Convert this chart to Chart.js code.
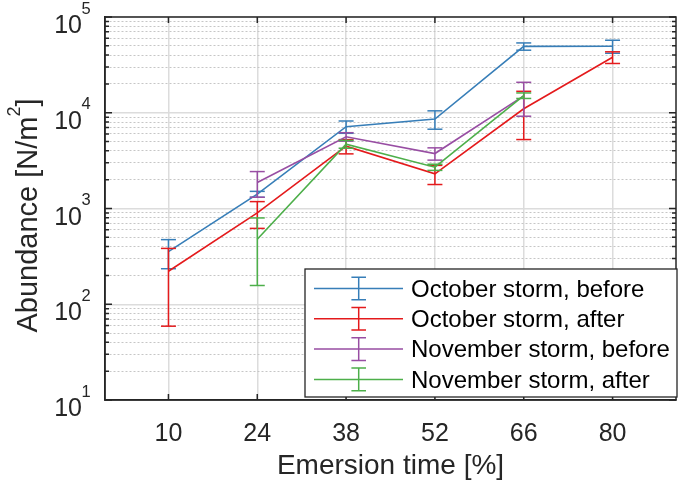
<!DOCTYPE html>
<html><head><meta charset="utf-8">
<script src="https://cdn.jsdelivr.net/npm/chart.js@4.4.1/dist/chart.umd.min.js"></script>
<style>html,body{margin:0;padding:0;background:#fff}#wrap{width:685px;height:486px}</style>
</head><body><div id="wrap"><canvas id="c" width="685" height="486"></canvas></div>
<script>
// ---- data ----
const emersionTimes = [10, 24, 38, 52, 66, 80];
const xTickValues = [10, 24, 38, 52, 66, 80];
const yDecades = [10, 100, 1000, 10000, 100000];
const yDecadeBase = '10';
const yDecadeExponents = ['1', '2', '3', '4', '5'];
const xTitle = 'Emersion time [%]';
const yTitleMain = 'Abundance [N/m';
const yTitleSup = '2';
const yTitleEnd = ']';
const seriesLabels = ['October storm, before', 'October storm, after', 'November storm, before', 'November storm, after'];
const octBefore    = [354, 1410, 7150, 8600, 49300, 49500];
const octBeforeErr = [119, 100, 1050, 1870, 4300, 7700];
const octAfter     = [221, 900, 4480, 2300, 11000, 38000];
const octAfterErr  = [162, 280, 760, 520, 5750, 5300];
const novBefore    = [null, 1870, 5620, 3750, 15000, null];
const novBeforeErr = [null, 560, 570, 550, 5800, null];
const novAfter     = [null, 477, 4700, 2700, 15100, null];
const novAfterErr  = [null, 320, 440, 200, 1000, null];
const seriesColors = ['#377eb8', '#e41a1c', '#984ea3', '#4daf4a'];

const seriesValues = [octBefore, octAfter, novBefore, novAfter];
const seriesErrors = [octBeforeErr, octAfterErr, novBeforeErr, novAfterErr];

const FONT = '"Liberation Sans", Arial, Helvetica, sans-serif';
const AXIS_COLOR = '#262626';
Chart.defaults.font.family = FONT;

function linePoints(vals) {
  const pts = [];
  emersionTimes.forEach((x, i) => { if (vals[i] != null) pts.push({x: x, y: vals[i]}); });
  return pts;
}
function errorBarPoints(vals, errs) {
  const pts = [];
  emersionTimes.forEach((x, i) => {
    if (vals[i] == null) return;
    pts.push({x: x, y: vals[i] - errs[i]}, {x: x, y: vals[i] + errs[i]}, {x: x, y: null});
  });
  return pts;
}
function isDecade(v) {
  const l = Math.log10(v);
  return Math.abs(l - Math.round(l)) < 1e-9;
}

const datasets = [];
seriesValues.forEach((vals, k) => {
  datasets.push({
    label: seriesLabels[k],
    data: linePoints(vals),
    borderColor: seriesColors[k],
    borderWidth: 1.6,
    pointRadius: 0,
    tension: 0,
    fill: false,
    order: (3 - k) * 2 + 1
  });
  datasets.push({
    label: seriesLabels[k] + ' error',
    data: errorBarPoints(vals, seriesErrors[k]),
    borderColor: seriesColors[k],
    borderWidth: 1.5,
    showLine: true,
    spanGaps: false,
    pointStyle: 'line',
    pointRadius: 7.5,
    pointBorderWidth: 1.5,
    pointBorderColor: seriesColors[k],
    pointHoverRadius: 7.5,
    fill: false,
    order: (3 - k) * 2
  });
});

const decorPlugin = {
  id: 'decor',
  afterDraw(chart) {
    const ctx = chart.ctx;
    const a = chart.chartArea;
    const xs = chart.scales.x, ys = chart.scales.y;
    ctx.save();
    // box
    ctx.strokeStyle = AXIS_COLOR;
    ctx.lineWidth = 1.5;
    ctx.strokeRect(a.left, a.top, a.right - a.left, a.bottom - a.top);
    // inward ticks
    ctx.beginPath();
    xs.ticks.forEach(t => {
      const px = xs.getPixelForValue(t.value);
      ctx.moveTo(px, a.bottom); ctx.lineTo(px, a.bottom - 6);
      ctx.moveTo(px, a.top); ctx.lineTo(px, a.top + 6);
    });
    ys.ticks.forEach(t => {
      const py = ys.getPixelForValue(t.value);
      const len = isDecade(t.value) ? 7 : 4;
      ctx.moveTo(a.left, py); ctx.lineTo(a.left + len, py);
      ctx.moveTo(a.right, py); ctx.lineTo(a.right - len, py);
    });
    ctx.stroke();
    // y tick labels with superscript exponents
    ctx.fillStyle = AXIS_COLOR;
    ctx.textBaseline = 'alphabetic';
    yDecades.forEach((d, i) => {
      const py = ys.getPixelForValue(d);
      ctx.font = '25px ' + FONT;
      ctx.textAlign = 'right';
      ctx.fillText(yDecadeBase, a.left - 23, py + 16);
      ctx.font = '16.5px ' + FONT;
      ctx.textAlign = 'left';
      ctx.fillText(yDecadeExponents[i], a.left - 23.5, py - 3.5);
    });
    // y title (rotated)
    ctx.save();
    const cy = (a.top + a.bottom) / 2 + 7;
    ctx.translate(37, cy);
    ctx.rotate(-Math.PI / 2);
    ctx.font = '29px ' + FONT;
    const w1 = ctx.measureText(yTitleMain).width;
    const w3 = ctx.measureText(yTitleEnd).width;
    ctx.font = '18px ' + FONT;
    const w2 = ctx.measureText(yTitleSup).width;
    let u = -(w1 + w2 + w3) / 2;
    ctx.textAlign = 'left';
    ctx.font = '29px ' + FONT;
    ctx.fillText(yTitleMain, u, 0); u += w1;
    ctx.font = '18px ' + FONT;
    ctx.fillText(yTitleSup, u, -17); u += w2;
    ctx.font = '29px ' + FONT;
    ctx.fillText(yTitleEnd, u, 0);
    ctx.restore();
    // legend
    const lw = 372, lh = 128;
    const lx = a.right + 1 - lw, ly = a.bottom - 3 - lh;
    ctx.fillStyle = '#ffffff';
    ctx.fillRect(lx, ly, lw, lh);
    ctx.strokeStyle = AXIS_COLOR;
    ctx.lineWidth = 1.3;
    ctx.strokeRect(lx, ly, lw, lh);
    seriesLabels.forEach((lab, k) => {
      const ry = ly + 19.5 + k * 30.3;
      ctx.strokeStyle = seriesColors[k];
      ctx.lineWidth = 1.5;
      ctx.beginPath();
      ctx.moveTo(lx + 9, ry); ctx.lineTo(lx + 98, ry);
      const ex = lx + 53.7;
      ctx.moveTo(ex, ry - 11.3); ctx.lineTo(ex, ry + 11.3);
      ctx.moveTo(ex - 7.3, ry - 11.3); ctx.lineTo(ex + 7.3, ry - 11.3);
      ctx.moveTo(ex - 7.3, ry + 11.3); ctx.lineTo(ex + 7.3, ry + 11.3);
      ctx.stroke();
      ctx.fillStyle = '#000000';
      ctx.font = '24px ' + FONT;
      ctx.textAlign = 'left';
      ctx.textBaseline = 'middle';
      ctx.fillText(lab, lx + 106, ry + 1.5);
    });
    ctx.restore();
  }
};

new Chart(document.getElementById('c'), {
  type: 'line',
  data: { datasets: datasets },
  options: {
    responsive: false,
    animation: false,
    events: [],
    layout: { padding: { left: 0, right: 6, top: 17, bottom: 0 } },
    plugins: { legend: { display: false }, tooltip: { enabled: false } },
    scales: {
      x: {
        type: 'linear',
        min: 0, max: 90,
        afterBuildTicks: s => { s.ticks = xTickValues.map(v => ({ value: v })); },
        afterFit: s => { s.height = 86; },
        ticks: { autoSkip: false, maxRotation: 0, font: { size: 25 }, color: AXIS_COLOR, padding: 19 },
        grid: { color: '#dcdcdc', lineWidth: 1.5, drawTicks: false },
        border: { display: true, color: AXIS_COLOR, width: 1.5 },
        title: { display: true, text: xTitle, color: AXIS_COLOR, font: { size: 28 }, padding: { top: 0, bottom: 3 } }
      },
      y: {
        type: 'logarithmic',
        min: 10, max: 100000,
        afterBuildTicks: s => {
          const t = [];
          yDecades.slice(0, -1).forEach(d => { for (let m = 1; m <= 9; m++) t.push({ value: d * m }); });
          t.push({ value: yDecades[yDecades.length - 1] });
          s.ticks = t;
        },
        afterFit: s => { s.width = 105; },
        ticks: { display: false, autoSkip: false },
        grid: {
          drawTicks: false,
          color: c => (c.tick && !isDecade(c.tick.value)) ? '#c6c6c6' : '#dcdcdc',
          lineWidth: c => (c.tick && !isDecade(c.tick.value)) ? 1 : 1.5
        },
        border: {
          display: true, color: AXIS_COLOR, width: 1.5,
          dash: c => (c.tick && !isDecade(c.tick.value)) ? [2, 2] : []
        }
      }
    }
  },
  plugins: [decorPlugin]
});
</script>
</body></html>
